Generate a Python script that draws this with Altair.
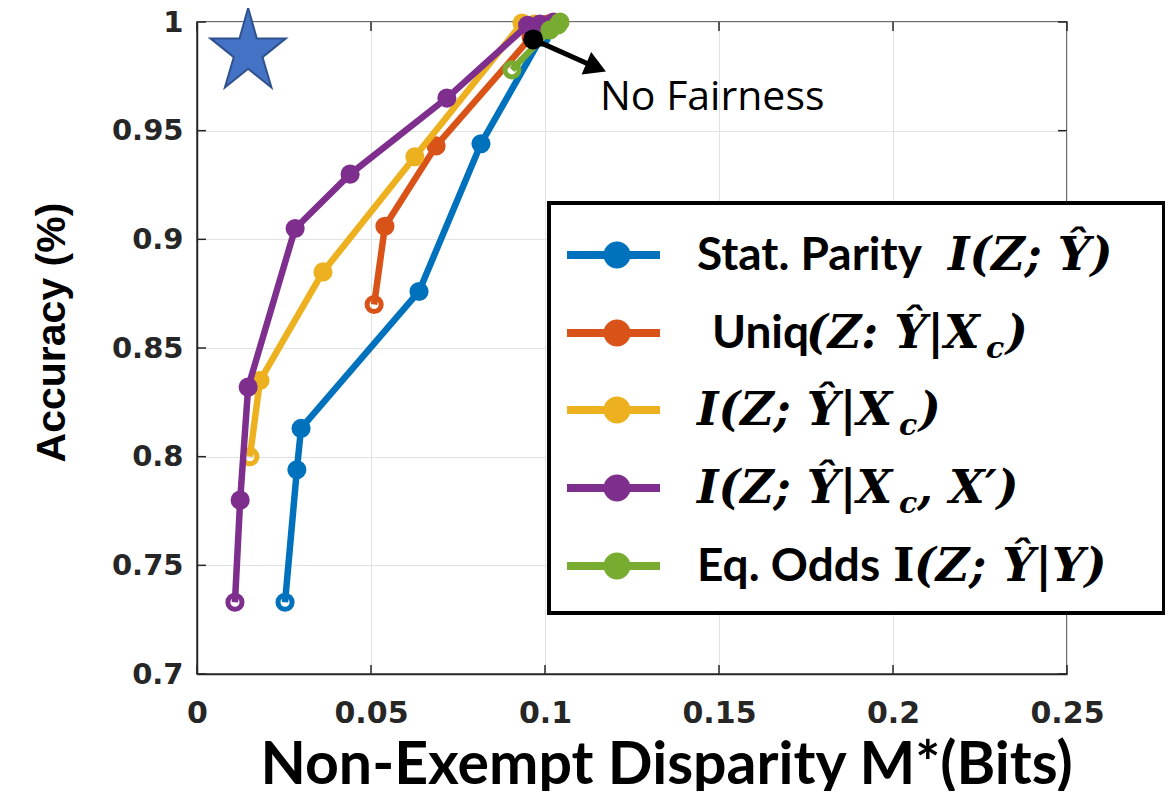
import altair as alt
import pandas as pd

# ---------------- data ----------------
sp_x = [0.0253, 0.0287, 0.0299, 0.0638, 0.0816, 0.0990, 0.1008]
sp_y = [0.733, 0.794, 0.813, 0.876, 0.944, 0.993, 0.998]

uq_x = [0.0509, 0.0540, 0.0687, 0.0960, 0.1008, 0.1030]
uq_y = [0.870, 0.906, 0.943, 0.993, 0.999, 0.999]

cm_x = [0.0152, 0.0181, 0.0362, 0.0626, 0.0934, 0.0970]
cm_y = [0.800, 0.835, 0.885, 0.938, 0.9995, 0.999]

cm2_x = [0.0109, 0.0124, 0.0147, 0.0282, 0.0440, 0.0718, 0.0950, 0.0985, 0.1025]
cm2_y = [0.733, 0.780, 0.832, 0.905, 0.930, 0.965, 0.9985, 0.999, 1.000]

eo_x = [0.0905, 0.1014, 0.1037, 0.1043]
eo_y = [0.978, 0.9963, 0.9986, 1.000]

series_colors = ["#0072BD", "#D95319", "#EDB120", "#7E2F8E", "#77AC30"]

nofair_x = [0.0966]
nofair_y = [0.992]
arrow_x = [0.0966, 0.1147]
arrow_y = [0.992, 0.9791]
nofair_text = ["No Fairness"]
nofair_text_x = [0.1158]
nofair_text_y = [0.9595]

star_x = [0.0147]
star_y = [0.9862]

x_ticks = [0, 0.05, 0.1, 0.15, 0.2, 0.25]
y_ticks = [0.7, 0.75, 0.8, 0.85, 0.9, 0.95, 1.0]

W, H = 870, 652

STAR_PATH = ("M0,-1L0.195,-0.309L0.856,-0.309L0.327,0.118L0.529,0.809L0,0.382"
             "L-0.529,0.809L-0.327,0.118L-0.856,-0.309L-0.195,-0.309Z")

label_color = "#262626"
xscale = alt.Scale(domain=[0, 0.25], nice=False, zero=False)
yscale = alt.Scale(domain=[0.7, 1.0], nice=False, zero=False)

X = alt.X("x:Q", scale=xscale, axis=alt.Axis(
    values=x_ticks, format="~g", grid=True, gridColor="#e2e2e2", gridWidth=1,
    ticks=False, tickSize=0, domain=True, domainColor=label_color, domainWidth=1.5,
    labelFont="DejaVu Sans", labelFontWeight="bold", labelFontSize=30, labelColor=label_color,
    labelPadding=24, labelFlush=False, labelOverlap=False,
    title="Non-Exempt Disparity M*(Bits)", titleFont="Lato", titleFontWeight="bold",
    titleFontSize=59, titleColor="black", titleX=469, titleY=109,
    titleAlign="center", titleBaseline="alphabetic"))
Y = alt.Y("y:Q", scale=yscale, axis=alt.Axis(
    values=y_ticks, format="~g", grid=True, gridColor="#e2e2e2", gridWidth=1,
    ticks=False, tickSize=0, domain=True, domainColor=label_color, domainWidth=1.5,
    labelFont="DejaVu Sans", labelFontWeight="bold", labelFontSize=29, labelColor=label_color,
    labelPadding=14, labelFlush=False, labelOverlap=False,
    title="Accuracy (%)", titleFont="Liberation Sans", titleFontWeight="bold",
    titleFontSize=41, titleColor="black", titleAngle=270, titleX=-145, titleY=310,
    titleAlign="center", titleBaseline="middle"))

layers = []

# inward ticks (matlab style box)
xt = pd.DataFrame({"x": x_ticks})
yt = pd.DataFrame({"y": y_ticks})
tick_style = dict(color=label_color, strokeWidth=1.5)
layers.append(alt.Chart(xt).mark_rule(**tick_style).encode(x=X, y=alt.value(H), y2=alt.value(H - 9)))
layers.append(alt.Chart(xt).mark_rule(**tick_style).encode(x=X, y=alt.value(0), y2=alt.value(9)))
layers.append(alt.Chart(yt).mark_rule(**tick_style).encode(y=Y, x=alt.value(0), x2=alt.value(9)))
layers.append(alt.Chart(yt).mark_rule(**tick_style).encode(y=Y, x=alt.value(W), x2=alt.value(W - 9)))

series = [(sp_x, sp_y), (uq_x, uq_y), (cm_x, cm_y), (cm2_x, cm2_y), (eo_x, eo_y)]
for (xs, ys), col in zip(series, series_colors):
    df = pd.DataFrame({"x": xs, "y": ys, "i": list(range(len(xs)))})
    layers.append(alt.Chart(df).mark_line(color=col, strokeWidth=6.5, strokeJoin="round")
                  .encode(x=X, y=Y, order="i:Q"))
    layers.append(alt.Chart(df).mark_point(shape="circle", size=200, strokeWidth=5, stroke=col,
                                           opacity=1)
                  .encode(x=X, y=Y, fill=alt.value(col),
                          fillOpacity=alt.when(alt.datum.i == 0).then(alt.value(0)).otherwise(alt.value(1))))

# No fairness point + arrow + label
adf = pd.DataFrame({"x": arrow_x, "y": arrow_y, "i": [0, 1]})
layers.append(alt.Chart(adf).mark_line(color="black", strokeWidth=5).encode(x=X, y=Y, order="i:Q"))
layers.append(alt.Chart(adf.iloc[[1]]).mark_point(shape="triangle-right", size=600, angle=23,
                                                   filled=True, color="black", opacity=1)
              .encode(x=X, y=Y))
layers.append(alt.Chart(pd.DataFrame({"x": nofair_x, "y": nofair_y})).mark_point(
    shape="circle", size=400, filled=True, color="black", opacity=1).encode(x=X, y=Y))
layers.append(alt.Chart(pd.DataFrame({"x": nofair_text_x, "y": nofair_text_y, "t": nofair_text}))
              .mark_text(font="Open Sans", fontSize=41, align="left", baseline="alphabetic", color="black")
              .encode(x=X, y=Y, text="t:N"))

# star
layers.append(alt.Chart(pd.DataFrame({"x": star_x, "y": star_y})).mark_point(
    shape=STAR_PATH, size=7744, filled=True, fill="#4472C4", stroke="#2F528F", strokeWidth=2,
    opacity=1, fillOpacity=1).encode(x=X, y=Y))

# ---------------- custom legend ----------------
one = pd.DataFrame({"a": [0]})
layers.append(alt.Chart(one).mark_rect(fill="white", stroke="black", strokeWidth=4).encode(
    x=alt.value(352), x2=alt.value(967), y=alt.value(181), y2=alt.value(591)))
row_y = [233, 311, 388, 466, 544]
for cy, col in zip(row_y, series_colors):
    layers.append(alt.Chart(one).mark_rule(color=col, strokeWidth=8).encode(
        x=alt.value(370), x2=alt.value(463), y=alt.value(cy)))
    layers.append(alt.Chart(one).mark_point(shape="circle", size=729, filled=True, color=col,
                                            opacity=1).encode(x=alt.value(420), y=alt.value(cy)))


def txt(s, x, y, font, size, weight="bold", style="normal"):
    # x given in page pixels of the reference; the plot origin sits at 197
    return alt.Chart(one).mark_text(text=s, font=font, fontSize=size, fontWeight=weight,
                                    fontStyle=style, align="left", baseline="alphabetic",
                                    color="black").encode(x=alt.value(x - 197), y=alt.value(y))


SANS = "Lato"
SERIF = "DejaVu Serif"
TS, MS, SS = 46, 46, 30
b = [cy + 15 for cy in row_y]
# row 1
layers.append(txt("Stat. Parity", 697, b[0], SANS, TS))
layers.append(txt("I(Z;  Ŷ)", 948, b[0], SERIF, MS, style="italic"))
# row 2
layers.append(txt("Uniq", 712, b[1], SANS, TS))
layers.append(txt("(Z:  Ŷ|X", 806, b[1], SERIF, MS, style="italic"))
layers.append(txt("c", 986, b[1] + 10, SERIF, SS, style="italic"))
layers.append(txt(")", 1006, b[1], SERIF, MS, style="italic"))
# row 3
layers.append(txt("I(Z;  Ŷ|X", 697, b[2], SERIF, MS, style="italic"))
layers.append(txt("c", 899, b[2] + 10, SERIF, SS, style="italic"))
layers.append(txt(")", 919, b[2], SERIF, MS, style="italic"))
# row 4
layers.append(txt("I(Z;  Ŷ|X", 697, b[3], SERIF, MS, style="italic"))
layers.append(txt("c", 899, b[3] + 10, SERIF, SS, style="italic"))
layers.append(txt(", X′)", 917, b[3], SERIF, MS, style="italic"))
# row 5
layers.append(txt("Eq. Odds", 697, b[4], SANS, TS))
layers.append(txt("I", 893, b[4], SERIF, MS))
layers.append(txt("(Z;  Ŷ|Y)", 914, b[4], SERIF, MS, style="italic"))

chart = alt.layer(*layers).properties(
    width=W, height=H,
    autosize=alt.AutoSizeParams(type="none"),
    padding={"left": 189, "top": 14, "right": 98, "bottom": 117},
    background="white",
).configure_view(stroke="#3a3a3a", strokeWidth=1.5)

chart.save("out.html", embed_options={"renderer": "svg", "actions": False})
